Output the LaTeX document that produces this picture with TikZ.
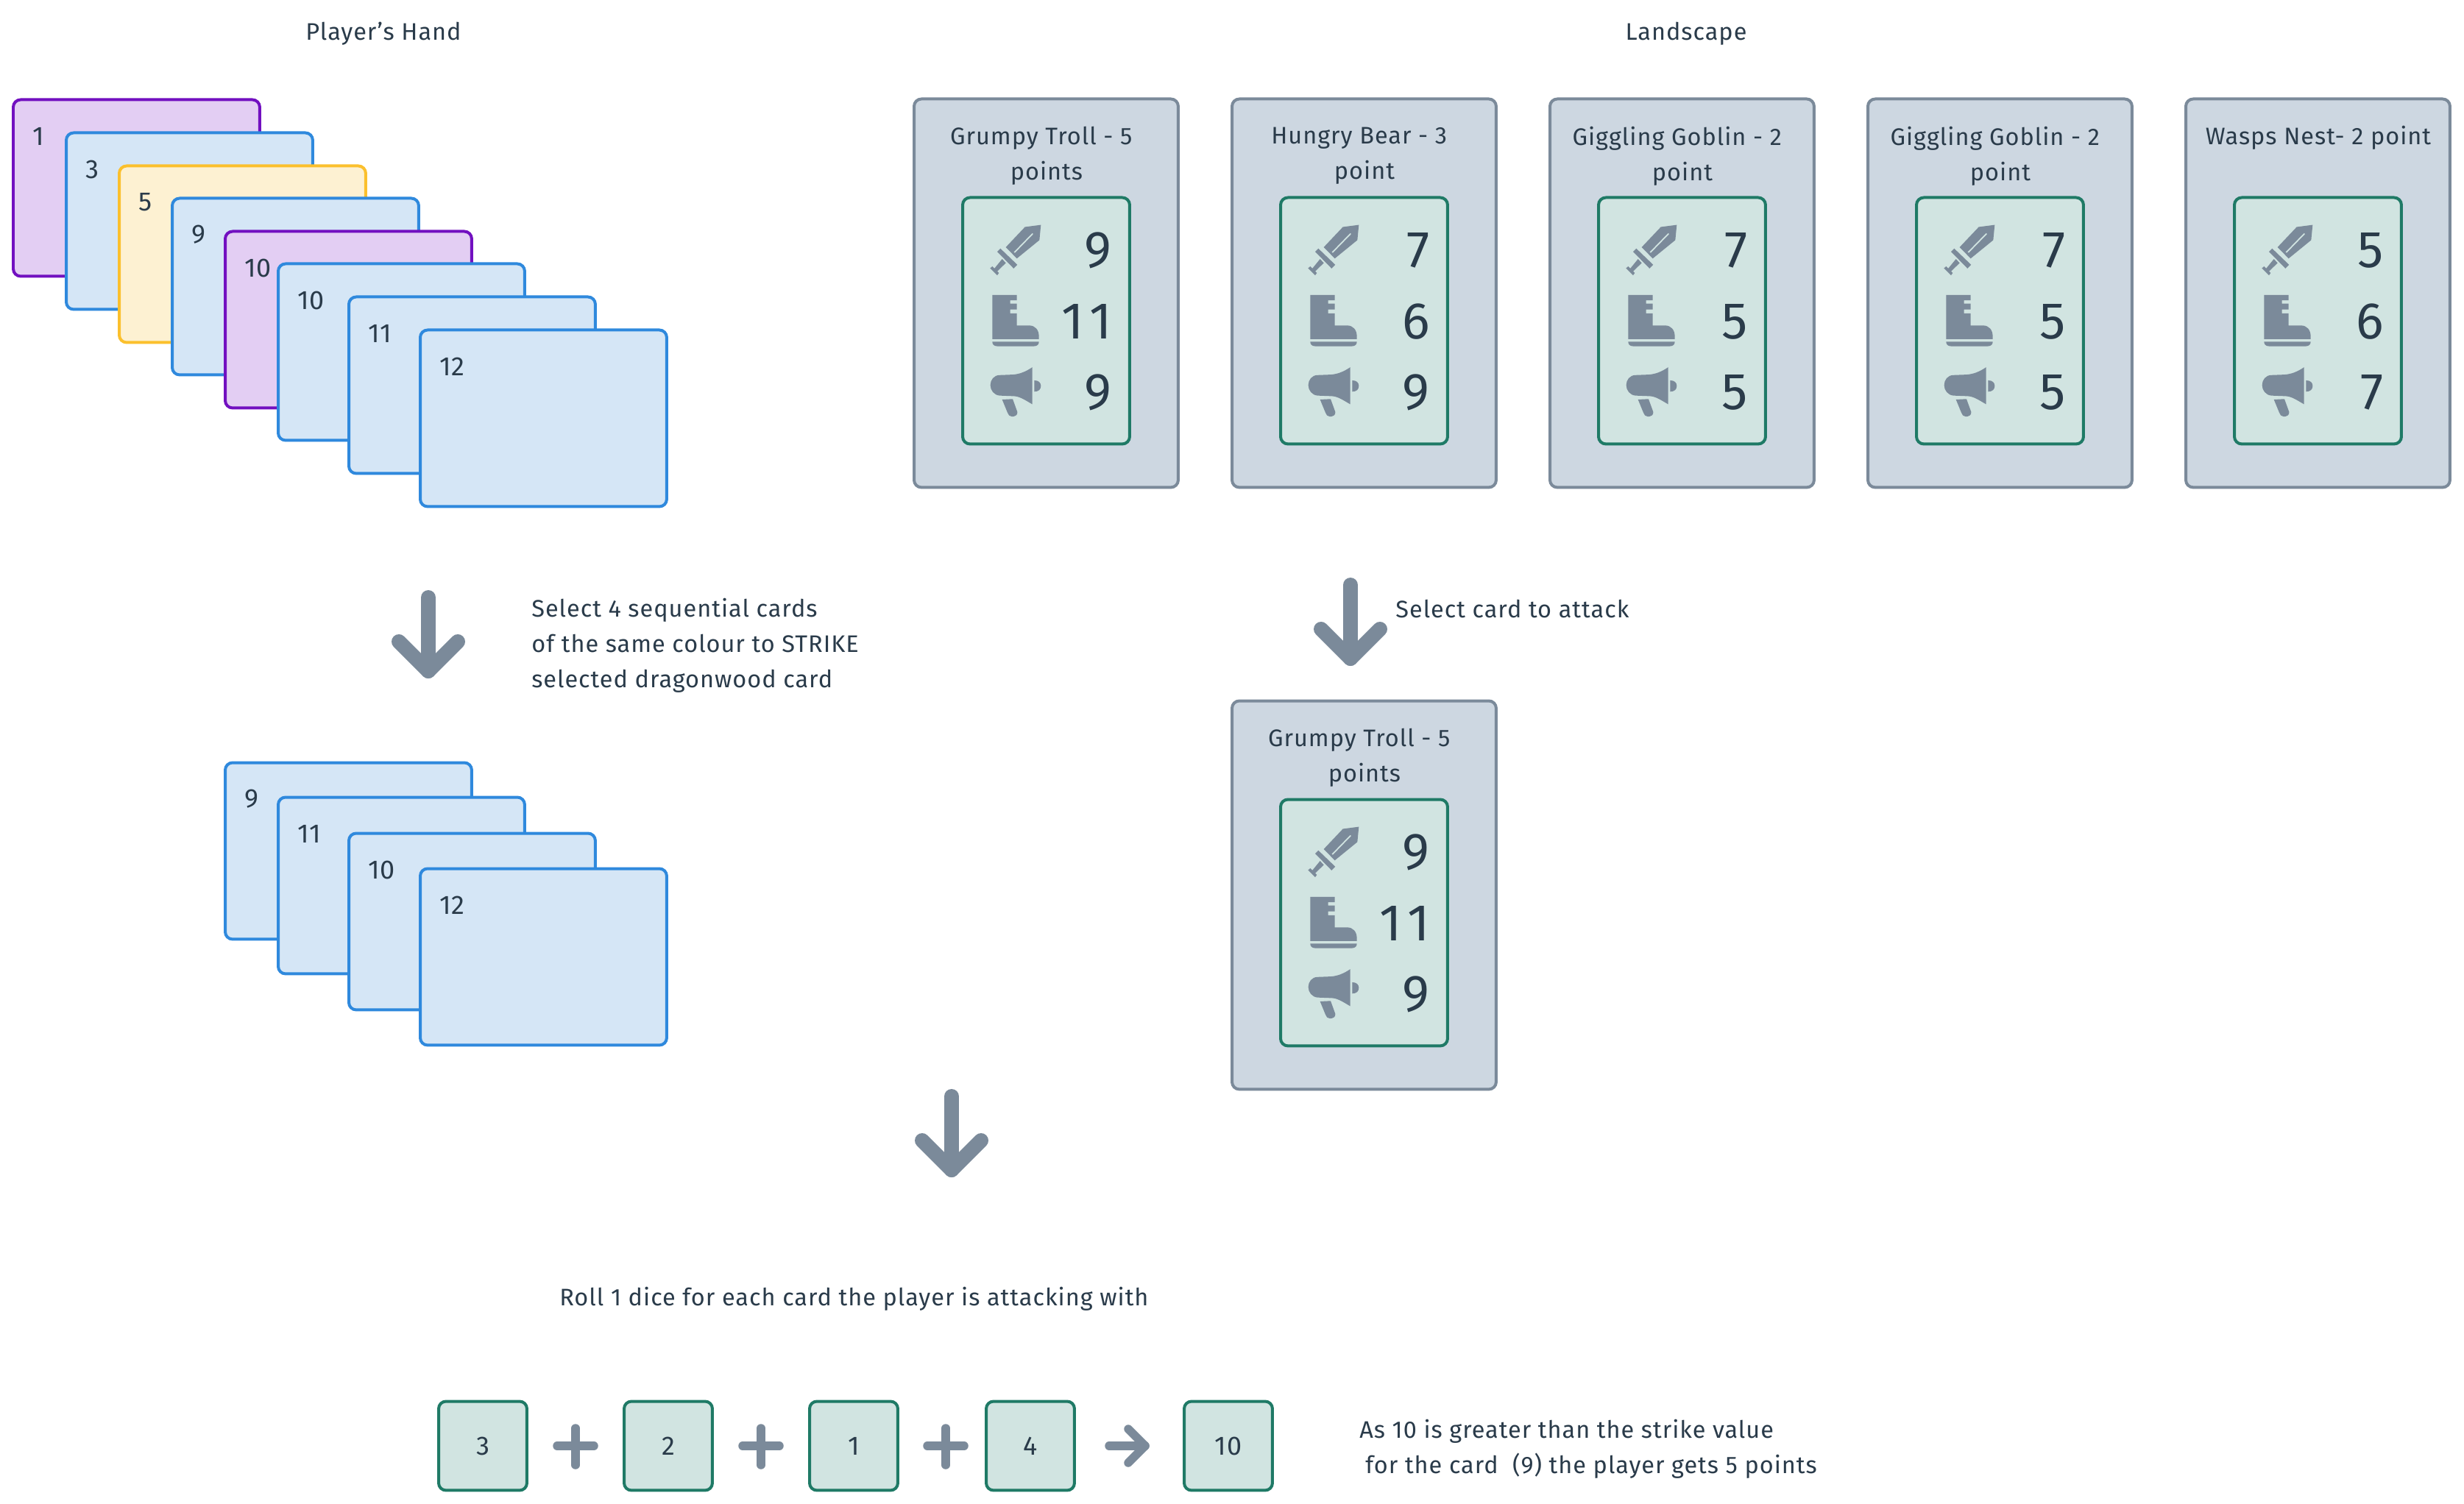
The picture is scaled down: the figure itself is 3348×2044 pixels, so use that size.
\documentclass[tikz,border=0pt]{standalone}
\usepackage{fontspec}
\setmainfont[LetterSpace=3]{Fira Sans}
\newfontfamily\numfont[LetterSpace=5]{Fira Sans}
\definecolor{txt}{HTML}{2A3B4A}
\definecolor{greyB}{HTML}{7B8A9A}
\definecolor{greyF}{HTML}{CDD7E1}
\definecolor{greenB}{HTML}{1F7A66}
\definecolor{greenF}{HTML}{D1E4E1}
\definecolor{purB}{HTML}{7210C0}
\definecolor{purF}{HTML}{E3CEF3}
\definecolor{bluB}{HTML}{2F89DD}
\definecolor{bluF}{HTML}{D5E6F6}
\definecolor{yelB}{HTML}{FBC02D}
\definecolor{yelF}{HTML}{FDF1D2}
\tikzset{
  box/.style={anchor=north west,inner sep=0pt,outer sep=0pt,line width=0.08cm,rounded corners=0.2cm,xshift=0.02cm,yshift=-0.01cm},
  handcard/.style={box,minimum width=6.7cm,minimum height=4.8cm},
  purplecard/.style={handcard,draw=purB,fill=purF},
  bluecard/.style={handcard,draw=bluB,fill=bluF},
  yellowcard/.style={handcard,draw=yelB,fill=yelF},
  landbox/.style={box,draw=greyB,fill=greyF,minimum width=7.18cm,minimum height=10.56cm},
  statbox/.style={box,draw=greenB,fill=greenF,minimum width=4.54cm,minimum height=6.7cm},
  diebox/.style={box,draw=greenB,fill=greenF,minimum width=2.4cm,minimum height=2.42cm},
  lab/.style={text=txt,inner sep=0pt,font=\fontsize{18.5}{27.3}\selectfont},
  numlab/.style={text=txt,inner sep=0pt,font=\fontsize{20.5}{27.3}\selectfont},
  biglab/.style={text=txt,inner sep=0pt,anchor=east,font=\numfont\fontsize{40}{44}\selectfont},
  bigarrow/.style={draw=greyB,line width=0.4cm,line cap=round,line join=round},
  smallarrow/.style={draw=greyB,line width=0.23cm,line cap=round,line join=round},
  icon/.style={fill=greyB,draw=none},
}
\newcommand{\hcard}[5]{% name, style, x, y, number
  \node[#2] (#1) at (#3,#4) {};
  \node[numlab,anchor=west] (#1n) at (#3+27,#4+50) {#5};
}
\newcommand{\icons}[2]{%
  \begin{scope}[shift={(#1-21,#2-14)},x=0.00667cm,y=-0.00714cm]
    % sword
    \fill[icon] (583,520) -- (577,578) -- (485,648) -- (440,605) -- (518,528) -- cycle;
    \draw[greenF,line width=0.035cm] (475,625) -- (550,553);
    \fill[icon] (405,622) -- (418,610) -- (487,672) -- (472,686) -- cycle;
    \fill[icon] (425,650) -- (440,665) -- (402,700) -- (390,690) -- cycle;
    \fill[icon] (376,685) -- (385,678) -- (412,703) -- (405,712) -- cycle;
    % boot
    \fill[icon] (385,787) -- (485,787) -- (485,807) -- (458,807) -- (458,820) -- (485,820)
      -- (485,842) -- (458,842) -- (458,857) -- (485,857) -- (485,903) -- (535,903)
      .. controls (560,903) and (575,920) .. (575,945) -- (575,955) -- (385,955) -- cycle;
    \fill[icon] (385,965) -- (575,965) .. controls (575,975) and (568,982) .. (555,982)
      -- (405,982) .. controls (392,982) and (385,975) .. (385,965) -- cycle;
    % megaphone
    \fill[icon] (548,1062) -- (548,1203) .. controls (515,1185) and (495,1172) .. (470,1172)
      -- (415,1170) .. controls (392,1168) and (377,1150) .. (377,1130)
      .. controls (377,1110) and (392,1092) .. (415,1092) -- (470,1090)
      .. controls (495,1088) and (520,1080) .. (548,1062) -- cycle;
    \fill[icon] (556,1112) .. controls (575,1112) and (583,1122) .. (583,1133)
      .. controls (583,1145) and (575,1155) .. (556,1155) -- cycle;
    \fill[icon] (425,1185) -- (468,1183) -- (487,1232) .. controls (490,1245) and (475,1250) .. (465,1250)
      .. controls (455,1250) and (450,1243) .. (447,1235) -- cycle;
  \end{scope}
}
\newcommand{\trail}{\hspace*{0.45em}}
\newcommand{\lcard}[8]{% name, x, y, text y offset, text, v1, v2, v3
  \node[landbox] (#1) at (#2,#3) {};
  \node[lab,align=center,anchor=center] (#1t) at (#2+181,#3+#4) {#5};
  \node[statbox] (#1i) at (#2+66,#3+134) {};
  \icons{#2}{#3}
  \node[biglab] (#1a) at (#2+270,#3+206) {#6};
  \node[biglab] (#1b) at (#2+270,#3+303) {#7};
  \node[biglab] (#1c) at (#2+270,#3+399) {#8};
}
\newcommand{\dnarrow}[2]{%
  \draw[bigarrow] (#1,#2) -- (#1,#2+100);
  \draw[bigarrow] (#1-40,#2+60) -- (#1,#2+100) -- (#1+40,#2+60);
}
\newcommand{\plusgl}[1]{%
  \draw[smallarrow] (#1-25,1965) -- (#1+25,1965);
  \draw[smallarrow] (#1,1941) -- (#1,1991);
}
\begin{document}
\begin{tikzpicture}[x=0.02cm,y=-0.02cm]
\useasboundingbox (0,0) rectangle (3348,2044);
\fill[white] (0,0) rectangle (3348,2044);

\node[lab] (hand) at (521,46) {Player’s Hand};
\node[lab] (land) at (2291,46) {Landscape};

\hcard{a1}{purplecard}{17}{135}{1}
\hcard{a2}{bluecard}{89}{180}{3}
\hcard{a3}{yellowcard}{161}{225}{5}
\hcard{a4}{bluecard}{233}{269}{9}
\hcard{a5}{purplecard}{305}{314}{10}
\hcard{a6}{bluecard}{377}{358}{10}
\hcard{a7}{bluecard}{473}{403}{11}
\hcard{a8}{bluecard}{570}{448}{12}

\lcard{l1}{1241}{134}{78}{Grumpy Troll - 5\trail\\points}{9}{1\hspace{0.1em}1}{9}
\lcard{l2}{1673}{134}{78}{Hungry Bear - 3\trail\\point}{7}{6}{9}
\lcard{l3}{2105}{134}{78}{Giggling Goblin - 2\trail\\point}{7}{5}{5}
\lcard{l4}{2537}{134}{78}{Giggling Goblin - 2\trail\\point}{7}{5}{5}
\lcard{l5}{2969}{134}{53}{Wasps Nest- 2 point}{5}{6}{7}

\dnarrow{582}{812}
\node[lab,anchor=west,align=left] (sel) at (722,877) {Select 4 sequential cards\\of the same colour to STRIKE\\selected dragonwood card};
\dnarrow{1835}{795}
\node[lab,anchor=west] (sel2) at (1896,828) {Select card to attack};

\hcard{b1}{bluecard}{305}{1036}{9}
\hcard{b2}{bluecard}{377}{1083}{11}
\hcard{b3}{bluecard}{473}{1132}{10}
\hcard{b4}{bluecard}{570}{1180}{12}

\lcard{s1}{1673}{952}{78}{Grumpy Troll - 5\trail\\points}{9}{1\hspace{0.1em}1}{9}

\dnarrow{1293}{1490}
\node[lab,anchor=west] (roll) at (760,1765) {Roll 1 dice for each card the player is attacking with};

\node[diebox] (d1) at (595,1904) {};
\node[numlab] (d1n) at (d1.center) {3};
\node[diebox] (d2) at (847,1904) {};
\node[numlab] (d2n) at (d2.center) {2};
\node[diebox] (d3) at (1099,1904) {};
\node[numlab] (d3n) at (d3.center) {1};
\node[diebox] (d4) at (1339,1904) {};
\node[numlab] (d4n) at (d4.center) {4};
\node[diebox] (d5) at (1608,1904) {};
\node[numlab] (d5n) at (d5.center) {10};
\plusgl{782}
\plusgl{1034}
\plusgl{1285}
\draw[smallarrow] (1507,1965) -- (1556,1965);
\draw[smallarrow] (1533,1942) -- (1556,1965) -- (1533,1988);

\node[lab,anchor=west] (res1) at (1847,1945) {As 10 is greater than the strike value};
\node[lab,anchor=west] (res2) at (1855,1992) {for the card\ \ (9) the player gets 5 points};
\end{tikzpicture}
\end{document}
